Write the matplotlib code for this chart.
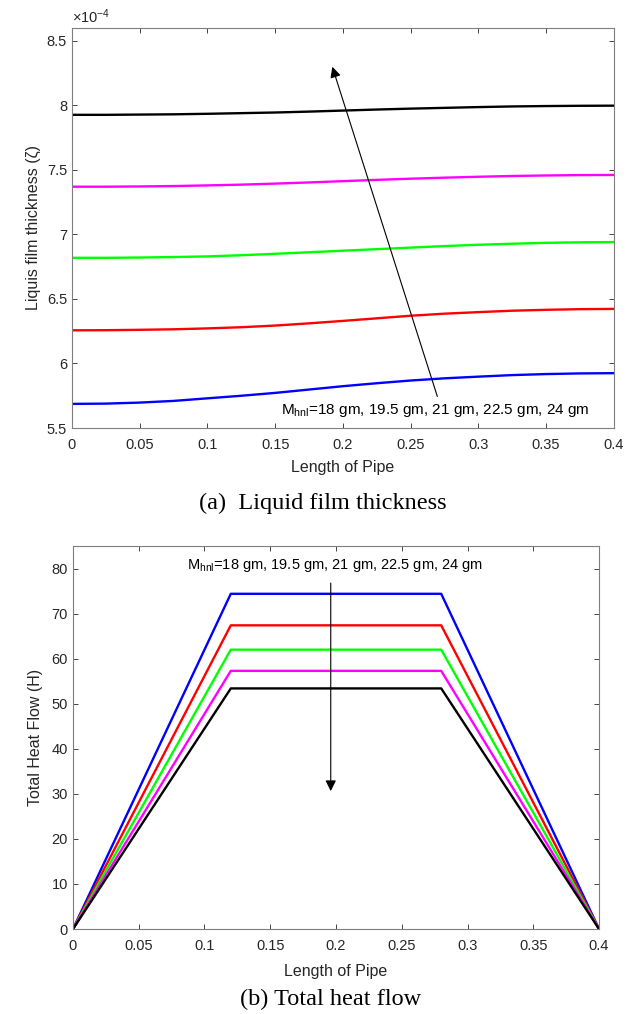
import matplotlib
matplotlib.use("Agg")
import matplotlib.pyplot as plt

plt.rcParams['font.family'] = ['Liberation Sans', 'DejaVu Sans']
plt.rcParams['mathtext.default'] = 'regular'

# (a) liquid film thickness, values in units of 1e-4
x_a = [0, 0.025, 0.05, 0.075, 0.1, 0.125, 0.15, 0.175, 0.2,
       0.225, 0.25, 0.275, 0.3, 0.325, 0.35, 0.375, 0.4]
film_18 = [5.687, 5.689, 5.697, 5.710, 5.730, 5.750, 5.772, 5.798, 5.824,
           5.847, 5.868, 5.885, 5.898, 5.910, 5.918, 5.923, 5.925]
film_195 = [6.257, 6.258, 6.261, 6.265, 6.272, 6.281, 6.294, 6.311, 6.330,
            6.350, 6.370, 6.386, 6.398, 6.409, 6.416, 6.421, 6.423]
film_21 = [6.819, 6.819, 6.821, 6.825, 6.830, 6.839, 6.850, 6.862, 6.874,
           6.886, 6.898, 6.910, 6.920, 6.928, 6.935, 6.939, 6.941]
film_225 = [7.370, 7.370, 7.372, 7.375, 7.380, 7.386, 7.394, 7.403, 7.413,
            7.423, 7.432, 7.440, 7.447, 7.453, 7.457, 7.460, 7.461]
film_24 = [7.927, 7.927, 7.929, 7.931, 7.935, 7.940, 7.945, 7.952, 7.960,
           7.968, 7.975, 7.981, 7.987, 7.992, 7.995, 7.997, 7.998]

# (b) total heat flow
x_b = [0, 0.12, 0.28, 0.4]
heat_18 = [0, 74.4, 74.4, 0]
heat_195 = [0, 67.4, 67.4, 0]
heat_21 = [0, 62.0, 62.0, 0]
heat_225 = [0, 57.3, 57.3, 0]
heat_24 = [0, 53.4, 53.4, 0]

colors = ['#0000ff', '#ff0000', '#00ff00', '#ff00ff', '#000000']
label_txt = 'M$_{hnl}$=18 gm, 19.5 gm, 21 gm, 22.5 gm, 24 gm'
xt = [0, 0.05, 0.1, 0.15, 0.2, 0.25, 0.3, 0.35, 0.4]
xtl = ['0', '0.05', '0.1', '0.15', '0.2', '0.25', '0.3', '0.35', '0.4']
grey = '#262626'


def style(ax):
    ax.tick_params(direction='in', top=True, right=True, length=3.5,
                   width=0.6, labelsize=10.5, colors=grey)
    ax.tick_params(axis='x', pad=7)
    for s in ax.spines.values():
        s.set_color('#7f7f7f')
        s.set_linewidth(0.8)


fig = plt.figure(figsize=(6.27, 10.14), dpi=100)

# ---- top panel
ax1 = fig.add_axes([0.1148, 0.5779, 0.864, 0.3945])
for yv, c in zip([film_18, film_195, film_21, film_225, film_24], colors):
    ax1.plot(x_a, yv, color=c, lw=1.7)
ax1.set_xlim(0, 0.4)
ax1.set_ylim(5.5, 8.6)
ax1.set_xticks(xt)
ax1.set_xticklabels(xtl)
ax1.set_yticks([5.5, 6, 6.5, 7, 7.5, 8, 8.5])
ax1.set_yticklabels(['5.5', '6', '6.5', '7', '7.5', '8', '8.5'])
style(ax1)
ax1.set_xlabel('Length of Pipe', fontsize=11.5, color=grey, labelpad=6)
ax1.set_ylabel('Liquis film thickness (ζ)', fontsize=11.5, color=grey, labelpad=4)
ax1.text(0, 1.006, '×10$^{-4}$', transform=ax1.transAxes, fontsize=10.5,
         color=grey, ha='left', va='bottom')
ax1.annotate('', xy=(0.1916, 8.32), xytext=(0.2704, 5.724),
             arrowprops=dict(arrowstyle='-|>', lw=0.8, color='k', mutation_scale=16))
ax1.text(0.268, 5.635, label_txt, fontsize=11, ha='center', va='center', color='k')

# ---- bottom panel
ax2 = fig.add_axes([0.1164, 0.0838, 0.839, 0.3777])
for yv, c in zip([heat_18, heat_195, heat_21, heat_225, heat_24], colors):
    ax2.plot(x_b, yv, color=c, lw=1.7)
ax2.set_xlim(0, 0.4)
ax2.set_ylim(0, 85)
ax2.set_xticks(xt)
ax2.set_xticklabels(xtl)
ax2.set_yticks(range(0, 81, 10))
style(ax2)
ax2.set_xlabel('Length of Pipe', fontsize=11.5, color=grey, labelpad=8)
ax2.set_ylabel('Total Heat Flow (H)', fontsize=11.5, color=grey, labelpad=6)
ax2.annotate('', xy=(0.196, 30), xytext=(0.196, 77.4),
             arrowprops=dict(arrowstyle='-|>', lw=0.8, color='k', mutation_scale=16))
ax2.text(0.199, 80.6, label_txt, fontsize=10.5, ha='center', va='center', color='k')

# captions
fig.text(0.515, 1 - 503 / 1014, '(a)  Liquid film thickness', family='Liberation Serif',
         fontsize=17.5, ha='center', va='center')
fig.text(0.528, 1 - 999 / 1014, '(b) Total heat flow', family='Liberation Serif',
         fontsize=17.5, ha='center', va='center')

fig.savefig('out.png', dpi=100)
